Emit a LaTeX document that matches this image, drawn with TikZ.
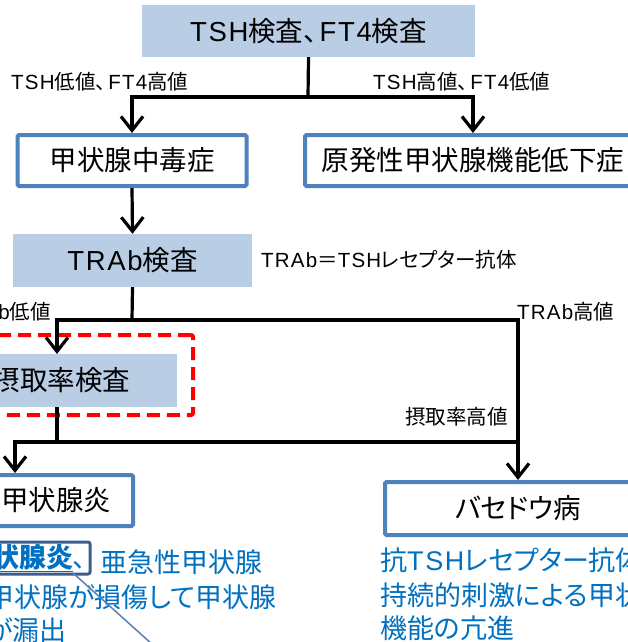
\documentclass[tikz,border=0pt]{standalone}
\usepackage{fontspec}
\setmainfont{Noto Sans CJK JP}[RawFeature=+palt]
\newfontfamily\latf{Liberation Sans}[LetterSpace=6]
\newcommand\lat[1]{{\latf #1}}
\newcommand\tcomma{、\hspace{2.5pt}}
\usetikzlibrary{arrows.meta}
\definecolor{boxfill}{HTML}{B9CDE5}
\definecolor{boxline}{HTML}{4F81BD}
\definecolor{txtblue}{HTML}{0070C0}
\definecolor{frameblue}{HTML}{3A5F8F}
\definecolor{ptrblue}{HTML}{5A7FB5}
\tikzset{
  testbox/.style={fill=boxfill, inner sep=0pt, font=\fontsize{27.5}{32}\selectfont},
  resbox/.style={draw=boxline, line width=4pt, fill=white, rounded corners=1.5pt, inner sep=0pt, font=\fontsize{27.5}{32}\selectfont},
  conn/.style={line width=3.2pt, draw=black},
  arr/.style={conn, -{Straight Barb[length=14pt, width=22pt, line width=3.2pt]}},
  lbl/.style={inner sep=0pt, font=\fontsize{20.5}{24}\selectfont},
  bluetxt/.style={inner sep=0pt, text=txtblue, font=\fontsize{27}{32}\selectfont},
  hilite/.style={draw=red, line width=4pt, dash pattern=on 13pt off 7pt, rounded corners=2pt, inner sep=0pt},
}
\begin{document}
\begin{tikzpicture}[x=1pt,y=-1pt]
\useasboundingbox (0,0) rectangle (627,642);

% boxes
\node[testbox, minimum width=333pt, minimum height=52pt] (tsh) at (308.5,31) {\lat{TSH}検査\tcomma\lat{FT4}検査};
\node[resbox, minimum width=229pt, minimum height=51pt] (thyrotox) at (132,160.5) {甲状腺中毒症};
\node[resbox, minimum width=336pt, minimum height=51pt] (hypo) at (473,160.5) {原発性甲状腺機能低下症};
\node[testbox, minimum width=239pt, minimum height=53pt] (trab) at (132.5,260.5) {\lat{TRAb}検査};
\node[hilite, minimum width=205pt, minimum height=80pt] (hl) at (90.5,375) {};
\node[testbox, minimum width=231pt, minimum height=53pt] (uptake) at (61.5,380.5) {摂取率検査};
\node[resbox, minimum width=153pt, minimum height=51pt] (thyroiditis) at (56.5,500.5) {甲状腺炎};
\node[resbox, minimum width=266pt, minimum height=53pt] (graves) at (518,508.5) {バセドウ病};

% junctions
\coordinate (j1) at (308,97);
\coordinate (j2) at (132,320);
\coordinate (upin) at (57,354);
\coordinate (upout) at (57,407);
\coordinate (j3) at (57,442);
\coordinate (thin) at (15,473);
\coordinate (j4) at (518,442);

% connectors
\draw[conn] (tsh.south) -- (j1);
\draw[arr] (j1) -| (thyrotox.north);
\draw[arr] (j1) -| (hypo.north);
\draw[arr] (thyrotox.south) -- (trab.north);
\draw[conn] (trab.south) -- (j2);
\draw[arr] (j2) -| (upin);
\draw[arr] (j2) -| (graves.north);
\draw[conn] (upout) -- (j3);
\draw[arr] (j3) -| (thin);
\draw[conn] (j3) -- (j4);

% labels
\node[lbl, anchor=west] (l1) at (11,82) {\lat{TSH}低値\tcomma\lat{FT4}高値};
\node[lbl, anchor=west] (l2) at (373,82) {\lat{TSH}高値\tcomma\lat{FT4}低値};
\node[lbl, anchor=west] (l3) at (261,260) {\lat{TRAb}＝\lat{TSH}レセプター抗体};
\node[lbl, anchor=east] (l4) at (51,312) {\lat{b}低値};
\node[lbl, anchor=west] (l5) at (517,312) {\lat{TRAb}高値};
\node[lbl, anchor=east] (l6) at (508,417) {摂取率高値};

% blue notes
\node[draw=frameblue, line width=3pt, rounded corners=2pt, minimum width=100pt, minimum height=32pt, inner sep=0pt] (frame) at (40,558) {};
\node[bluetxt, anchor=west] (n1a) at (-8,558) {\textbf{\underline{状腺炎}}、};
\node[bluetxt, anchor=west] (n1b) at (100,562) {亜急性甲状腺};
\node[bluetxt, anchor=east] (n2) at (277,597) {甲状腺が損傷して甲状腺};
\node[bluetxt, anchor=east] (n3) at (67,630) {が漏出};
\coordinate (ptrstart) at (73,573);
\coordinate (ptrend) at (173,663);
\draw[ptrblue, line width=1.5pt] (ptrstart) -- (ptrend);

\node[bluetxt, anchor=west] (r1) at (380,560) {抗\lat{TSH}レセプター抗体};
\node[bluetxt, anchor=west] (r2) at (380,595) {持続的刺激による甲状腺};
\node[bluetxt, anchor=west] (r3) at (380,628) {機能の亢進};
\end{tikzpicture}
\end{document}
